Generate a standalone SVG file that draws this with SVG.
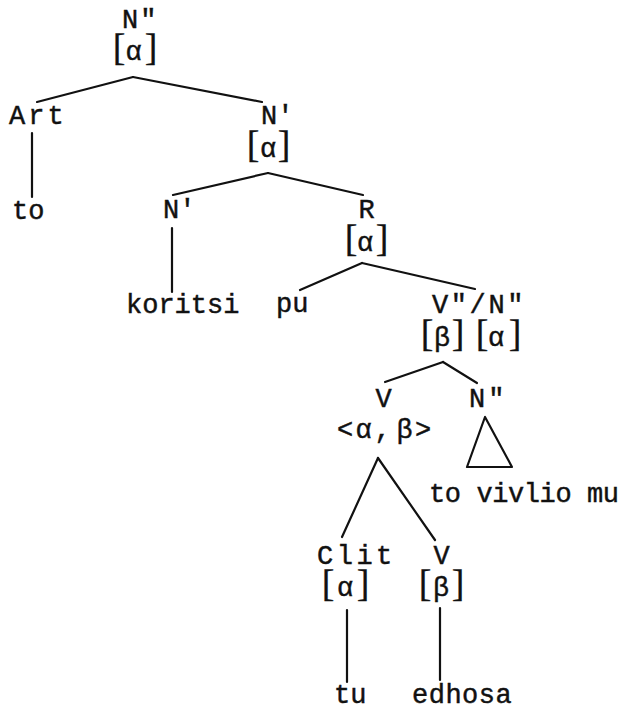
<svg xmlns="http://www.w3.org/2000/svg" width="621" height="710" viewBox="0 0 621 710">
<style>
text{font-family:"Liberation Mono","DejaVu Sans Mono",monospace;font-size:27px;fill:#111;stroke:#111;stroke-width:0.45}
.b{font-family:"Liberation Serif","DejaVu Serif",serif;font-size:38px;stroke-width:0.3}
.m{text-anchor:middle}
.edges line,.edges polygon{stroke:#111;stroke-width:2.2;fill:none;stroke-linecap:round;stroke-linejoin:round}
</style>
<rect width="621" height="710" fill="#fff"/>
<g class="edges" id="connectors">
<line x1="133" y1="77" x2="37" y2="102"/>
<line x1="133" y1="77" x2="262" y2="102"/>
<line x1="32" y1="133" x2="32" y2="197"/>
<line x1="268" y1="173" x2="173" y2="195"/>
<line x1="268" y1="173" x2="363" y2="195"/>
<line x1="172" y1="228" x2="172" y2="292"/>
<line x1="362" y1="263" x2="300" y2="290"/>
<line x1="362" y1="263" x2="475" y2="289"/>
<line x1="443" y1="362" x2="385" y2="382"/>
<line x1="443" y1="362" x2="477" y2="383"/>
<line x1="378" y1="458" x2="342" y2="537"/>
<line x1="378" y1="458" x2="435" y2="540"/>
<polygon points="485,417 467,467 512,467"/>
<line x1="347" y1="610" x2="347" y2="682"/>
<line x1="440" y1="608" x2="440" y2="680"/>
</g>
<g id="n-root"><text x="122" y="28" letter-spacing="2">N"</text>
<text y="60" class="m"><tspan class="b" x="119">[</tspan><tspan x="133.5">α</tspan><tspan class="b" x="151">]</tspan></text></g>
<g id="n-art"><text x="9" y="124" letter-spacing="3">Art</text></g>
<g id="n-to"><text x="12" y="219">to</text></g>
<g id="n-nbar1"><text x="261" y="124">N'</text>
<text y="157" class="m"><tspan class="b" x="253">[</tspan><tspan x="268">α</tspan><tspan class="b" x="284">]</tspan></text></g>
<g id="n-nbar2"><text x="163" y="218">N'</text></g>
<g id="n-koritsi"><text x="126" y="313">koritsi</text></g>
<g id="n-r"><text x="366.5" y="218" class="m">R</text>
<text y="251" class="m"><tspan class="b" x="351">[</tspan><tspan x="365">α</tspan><tspan class="b" x="382">]</tspan></text></g>
<g id="n-pu"><text x="276" y="312">pu</text></g>
<g id="n-vn"><text x="432" y="313" letter-spacing="2.6">V"/N"</text>
<text y="346" class="m"><tspan class="b" x="427">[</tspan><tspan x="442">β</tspan><tspan class="b" x="458">]</tspan><tspan class="b" x="482">[</tspan><tspan x="496">α</tspan><tspan class="b" x="515">]</tspan></text></g>
<g id="n-v"><text x="383.5" y="407" class="m">V</text>
<text y="438" class="m" x="345 363.5 382.5 404.5 423">&lt;α,β&gt;</text></g>
<g id="n-np"><text x="469" y="407" letter-spacing="3">N"</text></g>
<g id="n-vivlio"><text x="429" y="502" letter-spacing="-0.4">to vivlio mu</text></g>
<g id="n-clit"><text x="317" y="564" letter-spacing="3.5">Clit</text>
<text y="596" class="m"><tspan class="b" x="328">[</tspan><tspan x="345">α</tspan><tspan class="b" x="363">]</tspan></text></g>
<g id="n-v2"><text x="441.5" y="564" class="m">V</text>
<text y="596" class="m"><tspan class="b" x="425">[</tspan><tspan x="441">β</tspan><tspan class="b" x="458">]</tspan></text></g>
<g id="n-tu"><text x="334" y="703">tu</text></g>
<g id="n-edhosa"><text x="412" y="703" letter-spacing="0.5">edhosa</text></g>
</svg>
